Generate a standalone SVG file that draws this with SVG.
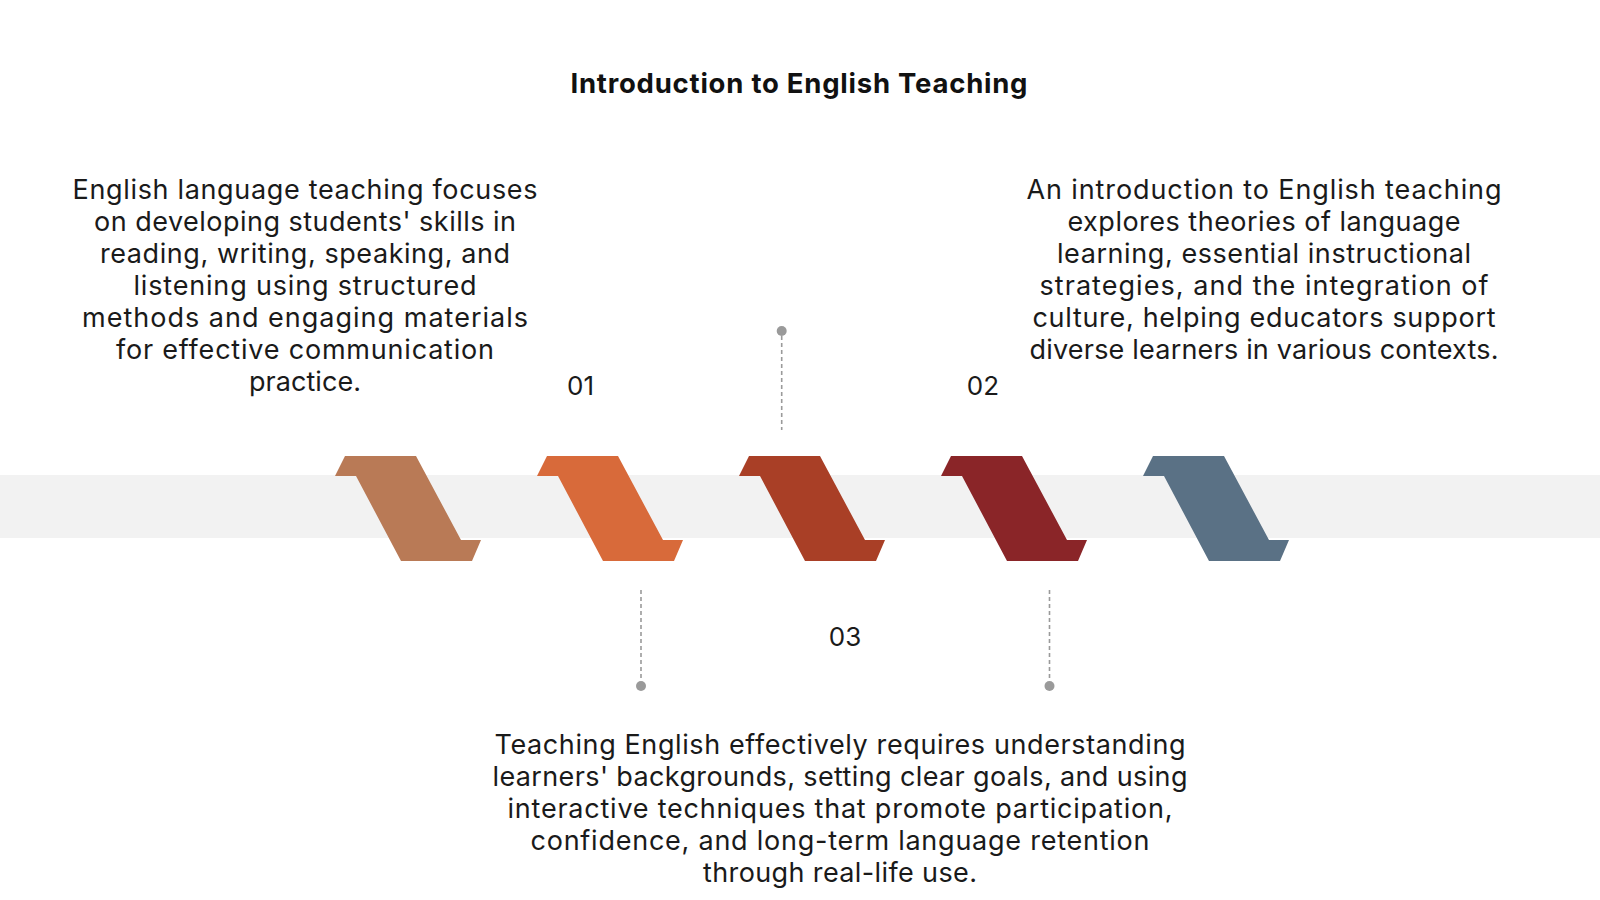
<svg xmlns="http://www.w3.org/2000/svg" width="1600" height="900" viewBox="0 0 1600 900">
  <defs>
    <style>
      .title { font-family: Inter, "Liberation Sans", sans-serif; font-weight: 700; font-size: 27.5px; fill: #111111; text-anchor: middle; }
      .body { font-family: Inter, "Liberation Sans", sans-serif; font-size: 27px; fill: #1a1a1a; text-anchor: middle; }
      .num { font-family: Inter, "Liberation Sans", sans-serif; font-size: 26px; fill: #1a1a1a; text-anchor: middle; }
      .lead { stroke: #9a9a9a; stroke-width: 1.6; stroke-dasharray: 4 3; fill: none; }
      .dot { fill: #9a9a9a; }
    </style>
    <path id="chev" d="M0,0 L71,0 L116,84 L136,84 L127,105 L56,105 L11,20 L-10,20 Z"/>
  </defs>
  <rect width="1600" height="900" fill="#ffffff"/>
  <rect id="band" x="0" y="475" width="1600" height="63" fill="#f2f2f2"/>

  <text class="title" x="799" y="92.5" textLength="457" lengthAdjust="spacing">Introduction to English Teaching</text>

  <g id="step1"><use href="#chev" x="345" y="456" fill="#b97a56"/></g>
  <g id="step2"><use href="#chev" x="547" y="456" fill="#d86a3a"/></g>
  <g id="step3"><use href="#chev" x="749" y="456" fill="#a93f26"/></g>
  <g id="step4"><use href="#chev" x="951" y="456" fill="#8a2528"/></g>
  <g id="step5"><use href="#chev" x="1153" y="456" fill="#5a7185"/></g>

  <g id="connectors">
    <line class="lead" x1="781.7" y1="336" x2="781.7" y2="430"/>
    <circle class="dot" cx="781.7" cy="331" r="5"/>
    <line class="lead" x1="641" y1="590" x2="641" y2="681"/>
    <circle class="dot" cx="641" cy="686" r="5"/>
    <line class="lead" x1="1049.5" y1="590" x2="1049.5" y2="681"/>
    <circle class="dot" cx="1049.5" cy="686" r="5"/>
  </g>

  <g id="label01"><text class="num" x="580.6" y="395">01</text></g>
  <g id="label02"><text class="num" x="983" y="395">02</text></g>
  <g id="label03"><text class="num" x="845" y="646">03</text></g>

  <g id="text1">
    <text class="body" x="305" y="199" textLength="465" lengthAdjust="spacing">English language teaching focuses</text>
    <text class="body" x="305" y="231" textLength="422" lengthAdjust="spacing">on developing students' skills in</text>
    <text class="body" x="305" y="263" textLength="410" lengthAdjust="spacing">reading, writing, speaking, and</text>
    <text class="body" x="305" y="295" textLength="343" lengthAdjust="spacing">listening using structured</text>
    <text class="body" x="305" y="327" textLength="446" lengthAdjust="spacing">methods and engaging materials</text>
    <text class="body" x="305" y="359" textLength="378" lengthAdjust="spacing">for effective communication</text>
    <text class="body" x="305" y="391" textLength="112" lengthAdjust="spacing">practice.</text>
  </g>

  <g id="text2">
    <text class="body" x="1264" y="199" textLength="475" lengthAdjust="spacing">An introduction to English teaching</text>
    <text class="body" x="1264" y="231" textLength="393" lengthAdjust="spacing">explores theories of language</text>
    <text class="body" x="1264" y="263" textLength="414" lengthAdjust="spacing">learning, essential instructional</text>
    <text class="body" x="1264" y="295" textLength="449" lengthAdjust="spacing">strategies, and the integration of</text>
    <text class="body" x="1264" y="327" textLength="463" lengthAdjust="spacing">culture, helping educators support</text>
    <text class="body" x="1264" y="359" textLength="469" lengthAdjust="spacing">diverse learners in various contexts.</text>
  </g>

  <g id="text3">
    <text class="body" x="840" y="753.5" textLength="691" lengthAdjust="spacing">Teaching English effectively requires understanding</text>
    <text class="body" x="840" y="785.5" textLength="695" lengthAdjust="spacing">learners' backgrounds, setting clear goals, and using</text>
    <text class="body" x="840" y="817.5" textLength="665" lengthAdjust="spacing">interactive techniques that promote participation,</text>
    <text class="body" x="840" y="849.5" textLength="619" lengthAdjust="spacing">confidence, and long-term language retention</text>
    <text class="body" x="840" y="881.5" textLength="274" lengthAdjust="spacing">through real-life use.</text>
  </g>
</svg>
